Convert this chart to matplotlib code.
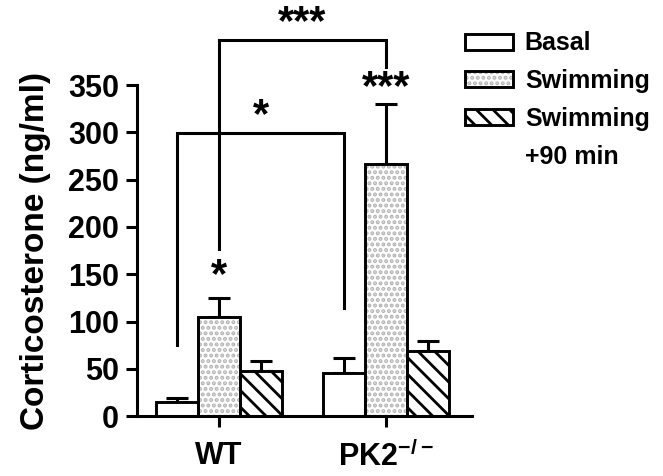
import numpy as np
import matplotlib
matplotlib.use("Agg")
import matplotlib.pyplot as plt
from matplotlib.patches import Patch

plt.rcParams['font.family'] = ['Liberation Sans', 'DejaVu Sans']
plt.rcParams['font.weight'] = 'bold'
plt.rcParams['mathtext.fontset'] = 'custom'
plt.rcParams['mathtext.rm'] = 'Liberation Sans:bold'
plt.rcParams['mathtext.bf'] = 'Liberation Sans:bold'
plt.rcParams['hatch.linewidth'] = 2.0

# data
groups = ['WT', r'PK2$^{-/-}$']
conditions = ['Basal', 'Swimming', 'Swimming\n+90 min']
basal = [15, 46]
swimming = [105, 267]
swim90 = [48, 69]
basal_err = [4, 15]
swimming_err = [20, 63]
swim90_err = [10, 10]

# significance brackets: (group, bar) of each leg, bracket level, leg bottoms, label
brackets = [
    ((0, 0), (1, 0), 299, (75, 114), '*'),
    ((0, 1), (1, 1), 398, (177, 369), '***'),
]
# stars over single bars: (group, bar, label)
bar_stars = [(0, 1, '*'), (1, 1, '***')]

width = 0.25
x = np.arange(len(groups))

fig = plt.figure(figsize=(6.63, 4.76), dpi=100)
ax = fig.add_axes([0.2066, 0.126, 0.5053, 0.695])

series = [basal, swimming, swim90]
errs = [basal_err, swimming_err, swim90_err]
handles = []
for i, (vals, err) in enumerate(zip(series, errs)):
    pos = x + (i - 1) * width
    ax.errorbar(pos, vals, yerr=[np.zeros(len(vals)), err], fmt='none',
                ecolor='black', elinewidth=2.2, capsize=8, capthick=2.2, zorder=1)
    if i == 1:
        fill = ax.bar(pos, vals, width, color='white', edgecolor='#b4b4b4',
                      hatch='...', linewidth=0, zorder=2)
    elif i == 2:
        fill = ax.bar(pos, vals, width, color='white', edgecolor='black',
                      hatch='\\\\', linewidth=0, zorder=2)
    else:
        fill = ax.bar(pos, vals, width, color='white', linewidth=0, zorder=2)
    outline = ax.bar(pos, vals, width, fill=False, edgecolor='black',
                     linewidth=2.1, zorder=3)
    handles.append((fill, outline))

def xpos(g, b):
    return x[g] + (b - 1) * width

for (g1, b1), (g2, b2), level, (bot1, bot2), lab in brackets:
    x1, x2 = xpos(g1, b1), xpos(g2, b2)
    ax.plot([x1, x1, x2, x2], [bot1, level, level, bot2], color='black',
            lw=2.2, clip_on=False, zorder=4, solid_joinstyle='miter')
    ax.annotate(lab, ((x1 + x2) / 2, level), xytext=(0, -2),
                textcoords='offset points', ha='center', va='bottom',
                fontsize=30, annotation_clip=False)

for g, b, lab in bar_stars:
    top = series[b][g] + errs[b][g]
    off = 1.5 if lab == '*' else -3
    ax.annotate(lab, (xpos(g, b), top), xytext=(0, off),
                textcoords='offset points', ha='center', va='bottom',
                fontsize=30, annotation_clip=False)

ax.set_xlim(-0.49, 1.515)
ax.set_ylim(0, 350)
ax.set_yticks(np.arange(0, 351, 50))
ax.set_xticks(x)
ax.set_xticklabels(groups)
ax.tick_params(axis='y', labelsize=22, width=2.2, length=8, pad=5)
ax.tick_params(axis='x', labelsize=22, width=2.2, length=8, pad=10)
for s in ['top', 'right']:
    ax.spines[s].set_visible(False)
for s in ['left', 'bottom']:
    ax.spines[s].set_linewidth(2.2)
ax.set_ylabel('Corticosterone (ng/ml)', fontsize=24, fontweight='bold', labelpad=12)

# last label wraps onto a second row with no handle
leg_labels = conditions[:2] + conditions[2].split('\n')
leg_handles = handles + [Patch(visible=False)]
fig.legend(leg_handles, leg_labels, loc='upper left', bbox_to_anchor=(0.686, 0.955),
           frameon=False, fontsize=18, handlelength=1.92, handleheight=0.6,
           handletextpad=0.48, labelspacing=0.55, borderaxespad=0)

fig.savefig('out.png', dpi=100)
